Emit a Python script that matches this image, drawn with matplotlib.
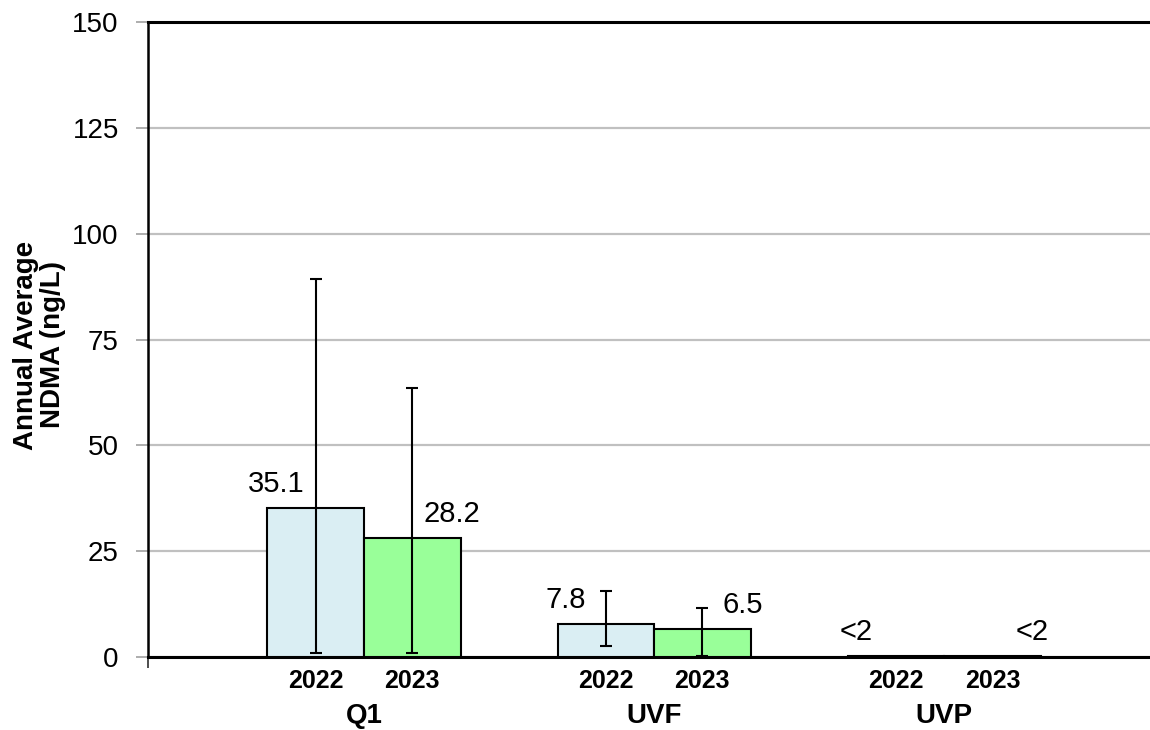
import matplotlib
matplotlib.use("Agg")
import matplotlib.pyplot as plt
import numpy as np

plt.rcParams['font.family'] = ['Liberation Sans', 'DejaVu Sans']

# ---- data ----
categories = ["Q1", "UVF", "UVP"]
years = ["2022", "2023"]
values_2022 = [35.1, 7.8, 0.3]
values_2023 = [28.2, 6.5, 0.3]
labels_2022 = ["35.1", "7.8", "<2"]
labels_2023 = ["28.2", "6.5", "<2"]
err_min_2022 = [1.0, 2.7, np.nan]
err_max_2022 = [89.3, 15.7, np.nan]
err_min_2023 = [1.0, 0.3, np.nan]
err_max_2023 = [63.5, 11.5, np.nan]
y_ticks = [0, 25, 50, 75, 100, 125, 150]
y_label = "Annual Average\nNDMA (ng/L)"

color_2022 = "#DAEEF3"
color_2023 = "#99FF99"

fig = plt.figure(figsize=(11.5, 7.3), dpi=100)
ax = fig.add_axes([148 / 1150, 1 - 657 / 730, 1 - 148 / 1150, (657 - 22) / 730])

x = np.arange(len(categories))
w = 0.333

series = [
    (values_2022, labels_2022, err_min_2022, err_max_2022, color_2022, -w / 2, -40),
    (values_2023, labels_2023, err_min_2023, err_max_2023, color_2023, w / 2, 40),
]

for vals, labs, emin, emax, col, off, dx in series:
    xs = x + off
    ax.bar(xs, vals, width=w, color=col, edgecolor="black", linewidth=1.5, zorder=3)
    vals_a = np.array(vals)
    lo = vals_a - np.array(emin)
    hi = np.array(emax) - vals_a
    mask = ~np.isnan(lo)
    ax.errorbar(xs[mask], vals_a[mask], yerr=[lo[mask], hi[mask]], fmt="none",
                ecolor="black", elinewidth=1.5, capsize=4, capthick=1.5, zorder=4)
    for xi, v, lab in zip(xs, vals, labs):
        ax.annotate(lab, xy=(xi, v), xytext=(dx, 24), textcoords="offset pixels",
                    ha="center", va="center", fontsize=21, zorder=5)

# axes styling
ax.set_ylim(0, 150)
ax.set_xlim(-0.745, 2.71)
ax.set_yticks(y_ticks)
ax.tick_params(axis="y", labelsize=20, length=9, width=1.2, color="#A0A0A0", pad=12)
ax.yaxis.grid(True, color="#C0C0C0", linewidth=1.6, zorder=0)
ax.set_axisbelow(True)

bar_pos = np.concatenate([x - w / 2, x + w / 2])
bar_lab = [years[0]] * len(x) + [years[1]] * len(x)
ax.set_xticks(bar_pos)
ax.set_xticklabels(bar_lab, fontsize=18, fontweight="bold")
ax.tick_params(axis="x", length=0, pad=9)
ax.set_xticks([-0.745], minor=True)
ax.tick_params(axis="x", which="minor", length=8, width=1.2, color="#303030")

for xi, cat in zip(x, categories):
    ax.annotate(cat, xy=(xi, 0), xycoords=("data", "axes fraction"),
                xytext=(0, -59), textcoords="offset pixels",
                ha="center", va="center", fontsize=20, fontweight="bold")

ax.spines["right"].set_visible(False)
ax.spines["left"].set_linewidth(1.8)
ax.spines["bottom"].set_linewidth(2.2)
ax.spines["top"].set_linewidth(2.2)
for s in ["left", "bottom", "top"]:
    ax.spines[s].set_color("black")

fig.text(40 / 1150, 1 - 345 / 730, y_label, rotation=90, ha="center", va="center",
         fontsize=20, fontweight="bold", linespacing=1.05)

fig.savefig("out.png", dpi=100)
